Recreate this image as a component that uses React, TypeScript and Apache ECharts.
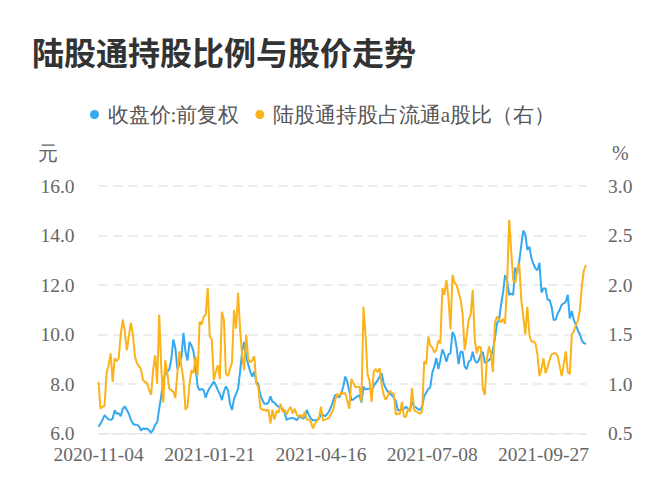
import * as echarts from "echarts";
import { useEffect, useRef } from "react";

// Chinese A-share market holidays that fall on weekdays in the period
const holidays = [
  "2021-01-01",
  "2021-02-11", "2021-02-12", "2021-02-15", "2021-02-16", "2021-02-17",
  "2021-04-05",
  "2021-05-03", "2021-05-04", "2021-05-05",
  "2021-06-14",
  "2021-09-20", "2021-09-21",
  "2021-10-01", "2021-10-04", "2021-10-05", "2021-10-06", "2021-10-07",
];

// 收盘价:前复权 (元)
const closePrice = [
  6.27, 6.4, 6.55, 6.74, 6.65, 6.57, 6.55, 6.6, 6.94, 6.8,
  6.82, 6.7, 7.0, 7.1, 6.95, 6.8, 6.55, 6.4, 6.35, 6.35,
  6.3, 6.12, 6.2, 6.18, 6.2, 6.13, 6.03, 6.15, 6.35, 6.45,
  7.0, 7.5, 8.15, 8.4, 8.5, 8.6, 9.0, 9.8, 9.45, 8.6,
  8.8, 9.1, 10.07, 9.3, 8.95, 9.7, 9.55, 9.3, 8.7, 7.9,
  7.75, 7.8, 7.75, 7.45, 7.7, 7.85, 7.95, 8.1, 7.95, 7.75,
  7.6, 7.35, 7.7, 7.9, 7.75, 7.2, 6.95, 7.4, 7.6, 7.8,
  8.5, 9.3, 9.7, 9.1, 8.8, 8.5, 8.3, 8.5, 8.1, 8.0,
  7.55, 7.35, 7.2, 7.2, 7.25, 7.5, 7.28, 7.25, 7.15, 7.08,
  7.05, 7.0, 6.85, 6.55, 6.6, 6.62, 6.63, 6.6, 6.54, 6.65,
  6.68, 6.6, 6.65, 6.95, 6.75, 6.6, 6.54, 6.54, 6.55, 6.6,
  6.76, 6.75, 6.7, 6.78, 6.9, 7.08, 7.32, 7.55, 7.55, 7.45,
  7.62, 7.9, 8.3, 8.1, 7.7, 7.35, 7.37, 7.45, 7.5, 7.55,
  7.25, 7.89, 7.78, 7.8, 7.82, 7.75, 7.9, 8.05, 8.15, 8.3,
  8.43, 8.02, 7.82, 7.7, 7.6, 7.55, 7.45, 7.3, 6.94, 6.94,
  6.98, 7.0, 7.08, 7.0, 6.95, 7.28, 7.1, 7.05, 6.98, 6.95,
  7.1, 7.5, 7.65, 7.8, 7.86, 8.45, 8.7, 9.05, 8.6, 8.96,
  9.4, 9.2, 8.9, 9.2, 9.24, 10.1, 9.95, 9.5, 8.8, 9.3,
  9.3, 8.7, 8.6, 8.9, 8.96, 9.3, 8.96, 8.85, 8.95, 9.2,
  9.3, 8.85, 8.9, 8.96, 9.05, 9.4, 9.85, 10.45, 10.58, 11.2,
  11.7, 12.4, 12.2, 11.6, 11.65, 11.6, 12.7, 12.47, 12.95, 13.6,
  14.2, 14.05, 13.41, 13.55, 13.1, 12.85, 12.67, 12.6, 12.9, 11.7,
  11.86, 11.86, 11.4, 11.39, 11.12, 10.58, 10.6, 10.85, 11.0, 11.2,
  11.26, 11.32, 11.6, 10.65, 10.95, 10.58, 10.4, 10.15, 10.0, 9.75,
  9.64, 9.64,
];

// 陆股通持股占流通a股比 (%)
const holdRatio = [
  1.02, 0.75, 0.77, 0.78, 1.11, 1.19, 1.31, 1.02, 1.26, 1.23,
  1.26, 1.5, 1.65, 1.53, 1.34, 1.48, 1.62, 1.5, 1.28, 1.21,
  1.18, 1.15, 1.04, 1.02, 1.01, 0.94, 0.89, 1.14, 1.29, 1.0,
  1.7, 1.18, 0.81, 1.24, 1.11, 0.95, 0.94, 0.92, 0.86, 1.11,
  1.33, 1.18, 1.04, 0.74, 0.77, 1.0, 1.14, 1.11, 1.28, 1.09,
  1.63, 1.6, 1.68, 1.7, 1.97, 1.48, 1.45, 1.04, 1.12, 1.19,
  1.05, 1.73, 1.65, 1.1, 1.08, 1.15, 1.22, 1.75, 1.56, 1.92,
  1.55, 1.29, 1.14, 1.5, 1.25, 1.22, 1.24, 1.28, 1.01, 0.97,
  0.76, 0.74, 0.74, 0.73, 0.74, 0.6, 0.74, 0.64, 0.73, 0.71,
  0.8, 0.72, 0.74, 0.69, 0.74, 0.77, 0.7, 0.75, 0.69, 0.67,
  0.69, 0.66, 0.72, 0.64, 0.64, 0.62, 0.55, 0.6, 0.62, 0.66,
  0.77, 0.63, 0.64, 0.65, 0.66, 0.7, 0.74, 0.84, 0.9, 0.88,
  0.92, 0.9, 0.91, 0.83, 0.75, 1.05, 1.01, 0.97, 0.97, 0.97,
  0.82, 1.78, 1.5, 1.1, 1.03, 0.82, 1.12, 1.15, 1.12, 1.16,
  0.99, 0.89, 0.84, 0.88, 0.93, 0.91, 0.9, 0.69, 0.7, 0.7,
  0.82, 0.67, 0.67, 0.75, 0.72, 0.96, 0.74, 0.72, 0.71, 0.7,
  0.72, 1.23, 1.2, 1.48, 1.39, 1.37, 1.32, 1.34, 1.44, 1.41,
  1.97, 1.9, 2.05, 1.87, 1.55, 2.1, 2.02, 2.0, 1.93, 1.85,
  1.71, 1.34, 1.48, 1.65, 1.7, 1.95, 1.45, 1.31, 1.38, 1.37,
  0.95, 0.89, 1.25, 1.38, 1.3, 1.12, 1.62, 1.68, 1.66, 1.62,
  1.66, 1.61, 2.02, 2.66, 2.35, 2.05, 2.02, 2.15, 2.22, 1.85,
  1.68, 1.5, 1.78, 1.5, 1.43, 1.43, 1.41, 1.3, 1.08, 1.15,
  1.26, 1.11, 1.17, 1.24, 1.3, 1.31, 1.31, 1.28, 1.18, 1.08,
  1.2, 1.33, 1.12, 1.1, 1.5, 1.53, 1.6, 1.64, 1.75, 2.0,
  2.15, 2.2,
];

const buildTradingDays = (start: string, count: number) => {
  const out: string[] = [];
  const d = new Date(start + "T00:00:00Z");
  while (out.length < count) {
    const iso = d.toISOString().slice(0, 10);
    const wd = d.getUTCDay();
    if (wd !== 0 && wd !== 6 && !holidays.includes(iso)) out.push(iso);
    d.setUTCDate(d.getUTCDate() + 1);
  }
  return out;
};

const dates = buildTradingDays("2020-11-04", closePrice.length);

// latin glyphs come out serif, CJK falls back to Noto Sans CJK
const baseFont = "serif";

export default function App() {
  const chartRef = useRef<HTMLDivElement>(null);

  useEffect(() => {
    if (!chartRef.current) return;
    const chart = echarts.init(chartRef.current, undefined, { renderer: "svg" });

    chart.setOption({
      animation: false,
      backgroundColor: "#ffffff",
      textStyle: { fontFamily: baseFont },
      title: {
        text: "陆股通持股比例与股价走势",
        left: 27,
        top: 30,
        textStyle: {
          fontFamily: "Noto Sans CJK SC",
          fontSize: 32,
          fontWeight: "bold",
          color: "#333333",
        },
      },
      legend: {
        left: 85,
        top: 99,
        icon: "circle",
        itemWidth: 16,
        itemHeight: 9,
        itemGap: 16,
        textStyle: { fontFamily: baseFont, fontSize: 21, color: "#555555" },
        data: ["收盘价:前复权", "陆股通持股占流通a股比（右）"],
      },
      graphic: [
        {
          type: "text",
          left: 38,
          top: 143,
          style: { text: "元", font: `20px ${baseFont}`, fill: "#666666" },
        },
        {
          type: "text",
          left: 612,
          top: 143,
          style: { text: "%", font: `20px ${baseFont}`, fill: "#666666" },
        },
      ],
      grid: { left: 98.5, right: 86, top: 186, bottom: 66.5 },
      xAxis: {
        type: "category",
        data: dates,
        boundaryGap: false,
        axisTick: { show: false },
        axisLine: { lineStyle: { color: "#e6e6e6" } },
        axisLabel: {
          interval: 54,
          margin: 11,
          fontFamily: baseFont,
          fontSize: 19.5,
          color: "#666666",
        },
      },
      yAxis: [
        {
          type: "value",
          min: 6,
          max: 16,
          interval: 2,
          axisLine: { show: false },
          axisTick: { show: false },
          axisLabel: {
            margin: 24,
            fontFamily: baseFont,
            fontSize: 19.5,
            color: "#666666",
            formatter: (v: number) => v.toFixed(1),
          },
          splitLine: { lineStyle: { type: [9, 6], color: "#e6e6e6", width: 1.5 } },
        },
        {
          type: "value",
          min: 0.5,
          max: 3,
          interval: 0.5,
          axisLine: { show: false },
          axisTick: { show: false },
          splitLine: { show: false },
          axisLabel: {
            margin: 22,
            fontFamily: baseFont,
            fontSize: 19.5,
            color: "#666666",
            formatter: (v: number) => v.toFixed(1),
          },
        },
      ],
      series: [
        {
          name: "收盘价:前复权",
          type: "line",
          data: closePrice,
          yAxisIndex: 0,
          showSymbol: false,
          color: "#35a9ef",
          lineStyle: { width: 2 },
        },
        {
          name: "陆股通持股占流通a股比（右）",
          type: "line",
          data: holdRatio,
          yAxisIndex: 1,
          showSymbol: false,
          color: "#fbb21b",
          lineStyle: { width: 2 },
        },
      ],
    });

    return () => {
      chart.dispose();
    };
  }, []);

  return (
    <div
      ref={chartRef}
      style={{ position: "absolute", left: 0, top: 0, width: 672, height: 500 }}
    />
  );
}
